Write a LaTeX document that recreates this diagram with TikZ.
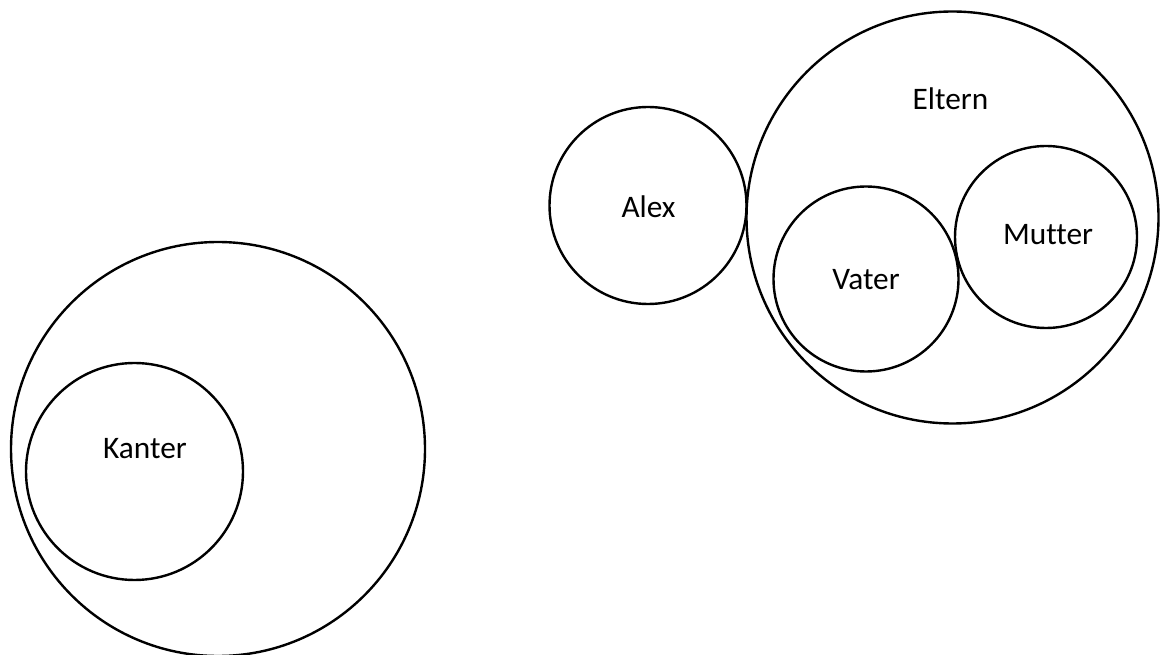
\documentclass[tikz,border=0pt]{standalone}
\usepackage{fontspec}
\setmainfont{Carlito}[Ligatures=NoCommon]
\newlength{\unitpx}
\setlength{\unitpx}{0.75pt}

\begin{document}
\begin{tikzpicture}[x=0.75pt, y=-0.75pt]
		\tikzset{setring/.style = {shape=circle, draw, line width=1.8pt, inner sep=0pt}}
		\tikzset{setlabel/.style = {anchor=base, inner sep=0pt, font=\fontsize{23.5}{28}\selectfont}}

		\useasboundingbox (0,0) rectangle (1160,655);

		\node[setring, minimum size=414\unitpx] (S_1) at (218,449) {};
		\node[setring, minimum size=217\unitpx] (K) at (134.5,471.5) {};

		\node[setring, minimum size=197\unitpx] (A) at (648,205.5) {};
		\node[setring, minimum size=412\unitpx] (E) at (952.5,217.5) {};
		\node[setring, minimum size=185\unitpx] (V) at (866,279) {};
		\node[setring, minimum size=182\unitpx] (M) at (1046,237) {};

		\node[setlabel] (K_t) at (145,459) {Kanter};
		\node[setlabel] (A_t) at (648.5,217.5) {Alex};
		\node[setlabel] (E_t) at (950.5,109.5) {Eltern};
		\node[setlabel] (V_t) at (866,289.5) {Vater};
		\node[setlabel] (M_t) at (1048,245) {Mutter};

	\end{tikzpicture}
\end{document}
